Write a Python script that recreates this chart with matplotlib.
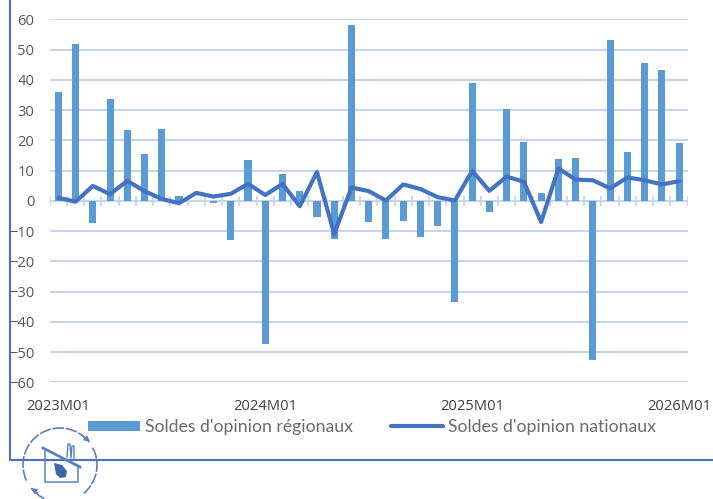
import numpy as np
import matplotlib
matplotlib.use("Agg")
import matplotlib.pyplot as plt
from matplotlib.patches import Arc, FancyArrowPatch, Polygon
from matplotlib.lines import Line2D

# -----------------------------
# DATA
# -----------------------------
x_labels = ["2023M01", "2024M01", "2025M01", "2026M01"]
x_label_pos = [0, 12, 24, 36]
y_ticks = [60, 50, 40, 30, 20, 10, 0, -10, -20, -30, -40, -50, -60]

regional = [36, 52, -7.3, 33.5, 23.4, 15.6, 23.6, 1.7, 0, -0.6, -13, 13.4,
            -47.5, 8.8, 3.2, -5.4, -12.7, 58, -7, -12.6, -6.8, -12, -8.2, -33.5,
            39, -3.6, 30.3, 19.3, 2.7, 13.8, 14.2, -52.5, 53.2, 16.2, 45.4, 43.1, 19.2]
national = [1, -0.3, 4.9, 2.2, 6.6, 3.2, 0.6, -0.8, 2.6, 1.4, 2.3, 5.6,
            1.9, 5.6, -1.8, 9.5, -11, 4.4, 3.2, 0.1, 5.4, 3.9, 1.2, 0.1,
            9.9, 3.3, 8, 6.3, -7, 10.7, 7, 6.8, 4.1, 7.7, 6.8, 5.4, 6.5]

BAR_COLOR = "#5b9bd5"
LINE_COLOR = "#4472c4"
GRID_COLOR = "#c6d5ee"
W, H = 713, 499

plt.rcParams["font.family"] = ["Open Sans", "DejaVu Sans"]

fig = plt.figure(figsize=(W / 100, H / 100), dpi=100)
ax = fig.add_axes([49.7 / W, 1 - 382.3 / H, 638 / W, 363 / H])

months = np.arange(len(regional))
bars = ax.bar(months, regional, width=0.41, color=BAR_COLOR, zorder=3)
line, = ax.plot(months, national, color=LINE_COLOR, lw=3, zorder=4, solid_capstyle="round",
                solid_joinstyle="round")

ax.set_xlim(-0.5, 36.5)
ax.set_ylim(-60, 60)
ax.set_yticks(y_ticks)
ax.set_xticks(x_label_pos, x_labels)
ax.tick_params(axis="y", length=0, pad=11, labelsize=10.6, labelcolor="#595959")
ax.tick_params(axis="x", length=0, pad=12, labelsize=10.6, labelcolor="#404040")
ax.grid(axis="y", color=GRID_COLOR, lw=1.5, zorder=1)
ax.set_axisbelow(True)
for s in ax.spines.values():
    s.set_visible(False)

# month separators on the zero line
ax.vlines(np.arange(-0.5, 37, 1), -1.6, 1.6, color=GRID_COLOR, lw=1.3, zorder=2)

leg = ax.legend([bars, line], ["Soldes d'opinion régionaux", "Soldes d'opinion nationaux"],
                loc="center", bbox_to_anchor=(372 / W, 1 - 427 / H), bbox_transform=fig.transFigure,
                ncol=2, frameon=False, fontsize=12.7, handlelength=2.95, handleheight=0.5,
                handletextpad=0.25, columnspacing=2.2, labelcolor="#6b6b6b", borderpad=0)
for t in leg.get_texts():
    t.set_family(["Lato", "DejaVu Sans"])

# outer frame and logo, in pixel coordinates
deco = fig.add_axes([0, 0, 1, 1], zorder=5)
deco.set_xlim(0, W)
deco.set_ylim(H, 0)
deco.axis("off")
deco.patch.set_alpha(0)
deco.add_line(Line2D([10, 10, W], [0, 460, 460], color=LINE_COLOR, lw=1.5))

logo_color = "#5b7fc0"
cx, cy = 60, 465
for a1, a2 in [(155, 322), (-28, 50), (95, 141)]:
    deco.add_patch(Arc((cx, cy), 74, 74, theta1=a1, theta2=a2, color=logo_color, lw=1.2, ls=(0, (7, 1))))
deco.add_patch(FancyArrowPatch((83, 436), (90, 442), arrowstyle="-|>", mutation_scale=8,
                               color=logo_color, lw=1, shrinkA=0, shrinkB=0))
deco.add_patch(FancyArrowPatch((38, 493), (31, 488), arrowstyle="-|>", mutation_scale=8,
                               color=logo_color, lw=1, shrinkA=0, shrinkB=0))
deco.add_line(Line2D([45, 45, 78, 78], [451, 482, 482, 466], color=logo_color, lw=1.1))
deco.add_line(Line2D([43, 80], [448, 467], color=logo_color, lw=2))
deco.add_line(Line2D([67, 68, 70, 71, 72, 74, 74], [457, 444, 444, 458, 446, 446, 460], color=logo_color, lw=1))
deco.add_patch(Polygon([(54, 463), (62, 465), (67, 471), (66, 477), (60, 478), (56, 474)], fc="#3f66a8", ec="none"))

fig.savefig("out.png", dpi=100)
